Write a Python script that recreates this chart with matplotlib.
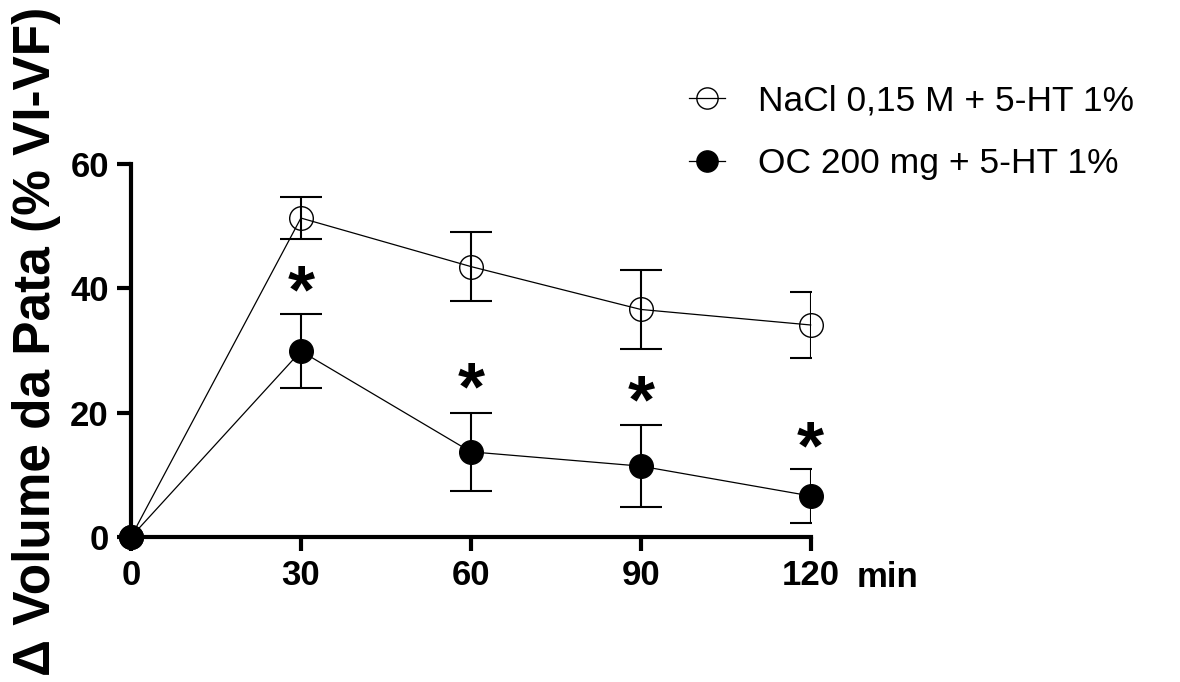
import matplotlib
matplotlib.use("Agg")
import matplotlib.pyplot as plt

plt.rcParams["font.family"] = ["Liberation Sans", "DejaVu Sans"]

# dados
tempo = [0, 30, 60, 90, 120]
nacl_media = [0, 51.3, 43.5, 36.6, 34.1]
nacl_epm = [0, 3.4, 5.5, 6.3, 5.3]
oc_media = [0, 29.9, 13.7, 11.4, 6.6]
oc_epm = [0, 5.9, 6.3, 6.6, 4.4]
asterisco_x = [30, 60, 90, 120]
asterisco_y = [41.3, 25.6, 23.6, 16.1]

fig = plt.figure(figsize=(11.8, 6.82), dpi=100)
ax = fig.add_axes([0.111, 0.2126, 0.576, 0.547])

# barras de erro (cortadas na borda do eixo como no original)
for m, e in [(nacl_media, nacl_epm), (oc_media, oc_epm)]:
    ax.errorbar(tempo[1:], m[1:], yerr=e[1:], fmt="none", ecolor="black",
                elinewidth=1.5, capsize=15, capthick=1.5, zorder=2)

ax.plot(tempo, nacl_media, "-o", color="black", lw=0.9, ms=17, mew=1.0,
        mfc="none", clip_on=False, zorder=3, label="NaCl 0,15 M + 5-HT 1%")
ax.plot(tempo, oc_media, "-o", color="black", lw=0.9, ms=17, mew=1.0,
        mfc="black", clip_on=False, zorder=4, label="OC 200 mg + 5-HT 1%")

for x, y in zip(asterisco_x, asterisco_y):
    ax.annotate("*", (x, y), xytext=(0, -10), textcoords="offset points",
                fontsize=50, fontweight="bold", ha="center", va="center")

ax.set_xlim(0, 120)
ax.set_ylim(0, 60)
ax.set_xticks(tempo)
ax.set_yticks([0, 20, 40, 60])
ax.tick_params(width=3, length=10, labelsize=25, direction="out", pad=6)
for lab in ax.get_xticklabels() + ax.get_yticklabels():
    lab.set_fontweight("bold")
for s in ["top", "right"]:
    ax.spines[s].set_visible(False)
for s in ["left", "bottom"]:
    ax.spines[s].set_linewidth(3)

fig.text(0.726, 1 - 587 / 682, "min", fontsize=25,
         fontweight="bold", ha="left", va="baseline")

fig.text(0.031, 0.5, "Δ Volume da Pata (% VI-VF)", rotation=90, fontsize=37,
         fontweight="bold", ha="center", va="center")

ax.legend(loc="upper left", bbox_to_anchor=(0.557, 0.923),
          bbox_transform=fig.transFigure, frameon=False,
          fontsize=25.5, handlelength=1.0, handletextpad=0.95,
          labelspacing=0.84, markerscale=0.9)

fig.savefig("out.png", dpi=100, facecolor="white")
